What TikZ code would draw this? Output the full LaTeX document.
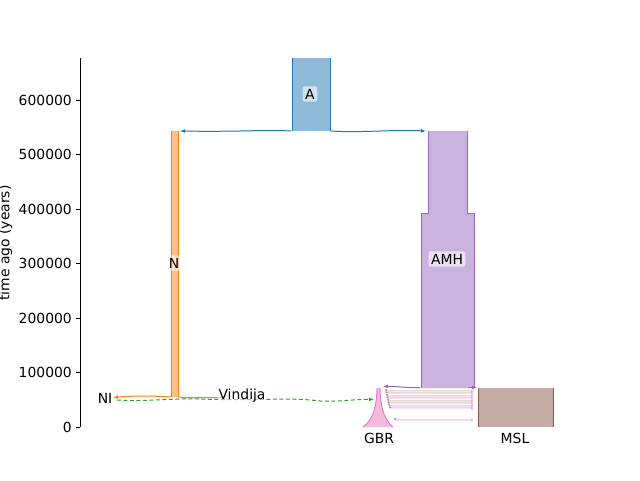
\documentclass[tikz,border=0pt]{standalone}
\usepackage{fontspec}
\setmainfont{DejaVu Sans}
\usetikzlibrary{arrows.meta}
\definecolor{cA}{HTML}{1F77B4}\definecolor{fA}{HTML}{8FBBD9}
\definecolor{cN}{HTML}{FF7F0E}\definecolor{fN}{HTML}{FFBF86}
\definecolor{cG}{HTML}{2CA02C}
\definecolor{cP}{HTML}{9467BD}\definecolor{fP}{HTML}{C9B3DE}
\definecolor{cB}{HTML}{8C564B}\definecolor{fB}{HTML}{C5AAA5}
\definecolor{cK}{HTML}{E377C2}\definecolor{fK}{HTML}{F1BBE0}
\tikzset{
  txt/.style={font=\fontsize{13.9}{16}\selectfont, inner sep=1pt},
  tick/.style={txt, anchor=east},
  demelabel/.style={txt, fill=white, fill opacity=0.6, text opacity=1, rounded corners=2pt, inner sep=2.5pt},
  edge/.style={line width=0.9pt},
  anc/.style={line width=1pt, -{Latex[length=5pt,width=4pt,open]}},
  mig/.style={line width=0.7pt, opacity=0.22},
  migtip/.style={opacity=0.6},
}
\begin{document}
\begin{tikzpicture}[x=1pt,y=-1pt]
\useasboundingbox (0,0) rectangle (640,480);
% axis
\draw[line width=0.9pt] (80,58) -- (80,427);
\foreach \v/\yy in {0/427,100000/372.5,200000/318,300000/263.5,400000/209,500000/154.5,600000/100}{
  \draw[line width=0.9pt] (76,\yy) -- (80,\yy);
  \node[tick] (t\v) at (73,\yy) {\v};
}
\node[txt, rotate=90] (ylab) at (5.5,243) {time ago (years)};

% A
\fill[fA] (292,58) rectangle (330,131);
\draw[cA,edge] (292,58) -- (292,131) (330,58) -- (330,131);
% N
\fill[fN] (171,131) rectangle (178,397);
\draw[cN,edge] (171,131) -- (171,397) (178,131) -- (178,397);
% AMH
\fill[fP] (428,131) -- (428,213) -- (421,213) -- (421,388) -- (474,388) -- (474,213) -- (467,213) -- (467,131) -- cycle;
\draw[cP,edge] (428,131) -- (428,213) -- (421,213) -- (421,388);
\draw[cP,edge] (467,131) -- (467,213) -- (474,213) -- (474,388);
% MSL
\fill[fB] (478,388) rectangle (553,427);
\draw[cB,edge] (478,388) -- (478,427) (553,388) -- (553,427);
% GBR
\fill[fK] (377,388) .. controls (376.5,410) and (372,420) .. (363,427) -- (393,427) .. controls (385,420) and (380.5,410) .. (380,388) -- cycle;
\draw[cK,edge] (377,388) .. controls (376.5,410) and (372,420) .. (363,427);
\draw[cK,edge] (380,388) .. controls (380.5,410) and (385,420) .. (393,427);

% connector end points
\coordinate (Abl) at (291,131);
\coordinate (Abr) at (331,131);
\coordinate (Ntop) at (180,131);
\coordinate (AMHtop) at (426,131);
\coordinate (Nbl) at (171,397);
\coordinate (Nbr) at (178,397);
\coordinate (NIend) at (113,397.5);
\coordinate (Vend) at (222,398);
\coordinate (Vstart) at (117,400);
\coordinate (GBRin) at (374,399.5);
\coordinate (AMHbl) at (420,387.5);
\coordinate (GBRtop) at (383,386.5);
\coordinate (AMHbr) at (468,387.5);
\coordinate (MSLtop) at (477,387.5);

% ancestry arrows
\draw[anc,cA] (Abl) .. controls (265,129.5) and (240,132) .. (Ntop);
\draw[anc,cA] (Abr) .. controls (360,133) and (390,129.5) .. (AMHtop);
\draw[anc,cN] (Nbl) .. controls (150,395.5) and (130,396) .. (NIend);
\draw[line width=1pt,cN] (Nbr) .. controls (195,398.5) and (210,397) .. (Vend);
\draw[cG,line width=1pt,dashed,dash pattern=on 4pt off 2.5pt,-{Latex[length=5pt,width=4pt]}] (Vstart) .. controls (145,402) and (170,398) .. (200,399) .. controls (260,401) and (290,397) .. (320,401) .. controls (340,402) and (355,399) .. (GBRin);
\draw[anc,cP] (AMHbl) .. controls (405,388) and (395,386) .. (GBRtop);
\draw[anc,cP] (AMHbr) -- (MSLtop);

% migrations GBR <-> MSL
\foreach \yy/\xl in {390.5/386,393/386.5,395.5/387,398/387.5,400.5/388,403/388.5,405.5/389,408/390,419.5/395}{
  \draw[mig,cB] (472,\yy-0.6) -- (\xl,\yy-0.6);
  \draw[mig,cK] (\xl,\yy+0.6) -- (472,\yy+0.6);
  \fill[cB,migtip] (\xl,\yy-0.6) circle (1.3pt);
  \fill[cK,migtip] (472,\yy+0.6) circle (1.3pt);
}

% labels
\node[demelabel] (labA) at (310,94) {A};
\node[demelabel] (labN) at (174,263) {N};
\node[demelabel] (labAMH) at (447,259) {AMH};
\node[txt] (labNI) at (105,398) {NI};
\node[txt, fill=white, fill opacity=0.5, text opacity=1] (labV) at (242,396) {Vindija};
\node[txt] (labGBR) at (379,438) {GBR};
\node[txt] (labMSL) at (515,438) {MSL};
\end{tikzpicture}
\end{document}
